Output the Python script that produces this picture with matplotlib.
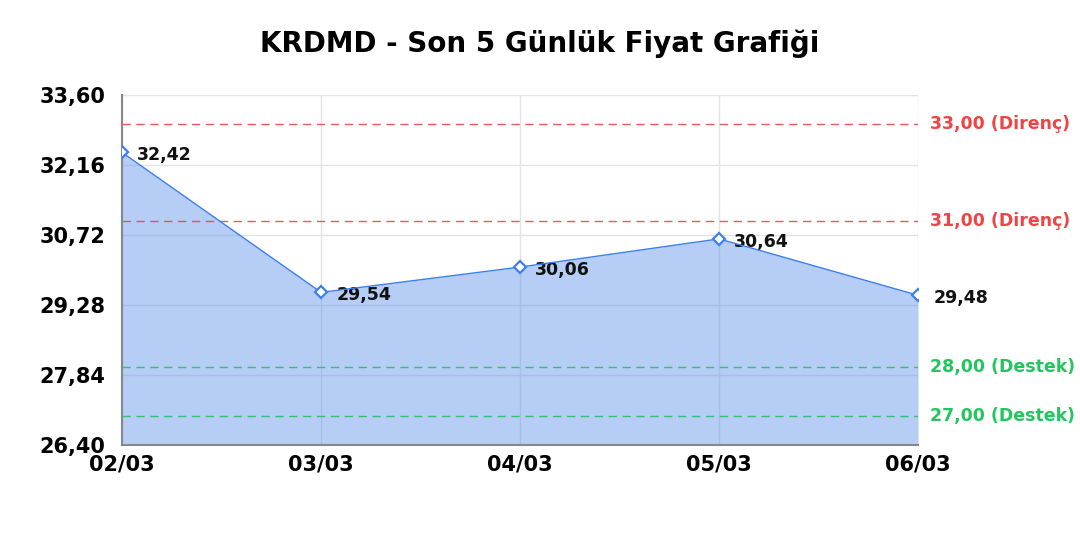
import matplotlib.pyplot as plt

dates = ["02/03", "03/03", "04/03", "05/03", "06/03"]
prices = [32.42, 29.54, 30.06, 30.64, 29.48]
resistance = [33.00, 31.00]
support = [28.00, 27.00]
yticks = [26.40, 27.84, 29.28, 30.72, 32.16, 33.60]

fig = plt.figure(figsize=(10.8, 5.4), dpi=100)
ax = fig.add_axes([0.113, 0.176, 0.737, 0.648])

x = list(range(len(dates)))
ax.fill_between(x, prices, yticks[0], color="#6495ed", alpha=0.47, linewidth=0)
ax.plot(x, prices, color="#3b7ff0", linewidth=1.0, marker="D", markersize=6,
        markerfacecolor="white", markeredgecolor="#3b7ff0", markeredgewidth=1.6, zorder=5)

for xi, p in zip(x, prices):
    ax.annotate(f"{p:.2f}".replace(".", ","), (xi, p), xytext=(11, -2),
                textcoords="offset points", ha="left", va="center",
                fontsize=12.5, fontweight="bold", color="#111111")

for r in resistance:
    ax.axhline(r, color="#ef4444", linestyle=(0, (6, 4)), linewidth=1.0, alpha=0.9)
    ax.annotate(f"{r:.2f} (Direnç)".replace(".", ","), (1, r), xycoords=ax.get_yaxis_transform(),
                xytext=(9, 0), textcoords="offset points",
                color="#ef4444", fontsize=12.5, fontweight="bold", va="center", ha="left")
for s in support:
    ax.axhline(s, color="#22c55e", linestyle=(0, (6, 4)), linewidth=1.0, alpha=0.9)
    ax.annotate(f"{s:.2f} (Destek)".replace(".", ","), (1, s), xycoords=ax.get_yaxis_transform(),
                xytext=(9, 0), textcoords="offset points",
                color="#22c55e", fontsize=12.5, fontweight="bold", va="center", ha="left")

ax.set_xlim(0, len(dates) - 1)
ax.set_ylim(yticks[0], yticks[-1])
ax.set_xticks(x)
ax.set_xticklabels(dates)
ax.set_yticks(yticks)
ax.set_yticklabels([f"{t:.2f}".replace(".", ",") for t in yticks])
ax.tick_params(axis="y", length=0, labelsize=15, pad=12)
ax.tick_params(axis="x", length=0, labelsize=15, pad=7)
for lab in ax.get_xticklabels() + ax.get_yticklabels():
    lab.set_fontweight("bold")

ax.grid(True, color="#e3e3e3", linewidth=1.0)
ax.set_axisbelow(True)
for side in ["top", "right"]:
    ax.spines[side].set_visible(False)
for side in ["left", "bottom"]:
    ax.spines[side].set_color("#888888")
    ax.spines[side].set_linewidth(1.5)

fig.suptitle("KRDMD - Son 5 Günlük Fiyat Grafiği", fontsize=20, fontweight="bold", y=0.945)

fig.savefig("out.png", dpi=100)
